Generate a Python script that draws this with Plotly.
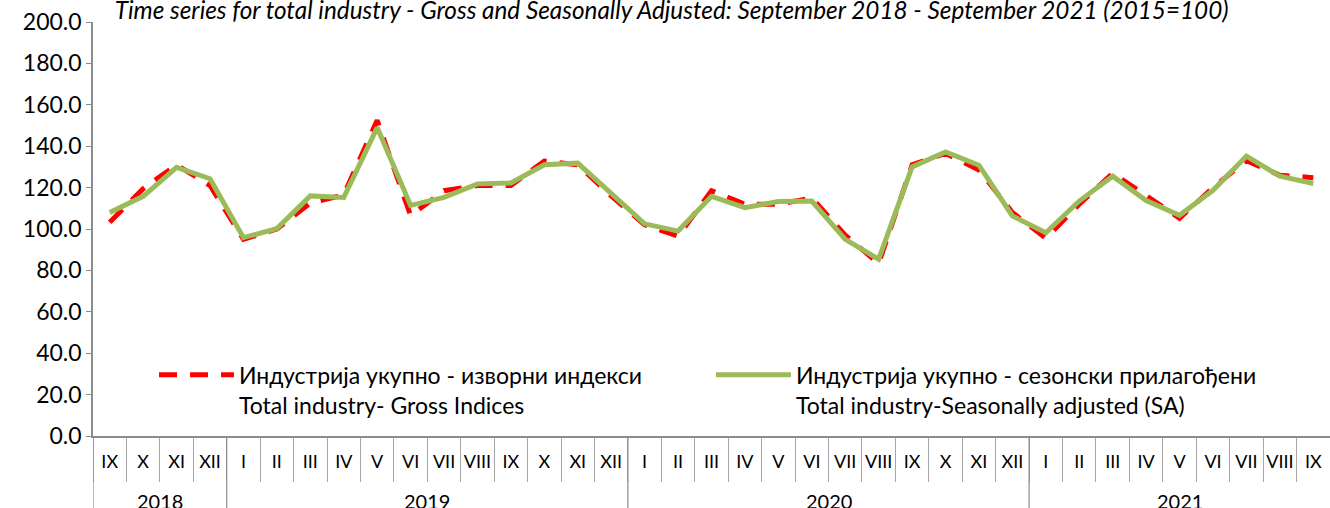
import plotly.graph_objects as go

years = ["2018", "2019", "2020", "2021"]
year_counts = [4, 12, 12, 9]
months = ["IX", "X", "XI", "XII"] + \
         ["I", "II", "III", "IV", "V", "VI", "VII", "VIII", "IX", "X", "XI", "XII"] * 2 + \
         ["I", "II", "III", "IV", "V", "VI", "VII", "VIII", "IX"]

gross = [103.3, 119.5, 131.0, 121.0,
         95.0, 100.0, 112.5, 116.5, 152.5, 106.5, 118.5, 121.0, 121.0, 132.8, 131.0, 116.0,
         102.0, 96.5, 118.5, 112.0, 112.0, 115.0, 97.0, 83.3, 131.0, 136.5, 128.5, 108.0,
         95.5, 112.0, 127.0, 116.0, 105.2, 120.0, 133.0, 126.0, 124.8]

sa = [108.0, 115.8, 129.8, 124.3,
      95.8, 100.2, 116.0, 115.2, 149.0, 111.4, 115.3, 121.8, 122.2, 131.0, 131.8, 117.5,
      102.5, 99.0, 115.8, 110.3, 113.3, 113.5, 95.0, 85.4, 130.0, 137.2, 130.8, 106.3,
      98.2, 113.5, 125.5, 113.7, 106.6, 118.7, 135.2, 125.5, 122.0]

name_gross = "Индустрија укупно - изворни индекси<br>Total industry- Gross Indices"
name_sa = "Индустрија укупно - сезонски прилагођени<br>Total industry-Seasonally adjusted (SA)"
title = "Time series for total industry - Gross and Seasonally Adjusted: September 2018 - September 2021 (2015=100)"

FONT = "Lato"
AXIS_GRAY = "#8C8C8C"
H_PLOT = 414   # plot height in px (508 - 22 - 72)
B_MARGIN = 72

idx = list(range(len(months)))

fig = go.Figure()
fig.add_trace(go.Scatter(
    x=idx, y=gross, name=name_gross, mode="lines",
    line=dict(color="#FF0000", width=5, dash="18px,13px"),
))
fig.add_trace(go.Scatter(
    x=idx, y=sa, name=name_sa, mode="lines",
    line=dict(color="#9BBB59", width=5),
))

# year group labels and dividers
annotations = []
shapes = []
start = 0
for yr, n in zip(years, year_counts):
    center = start + (n - 1) / 2
    annotations.append(dict(
        x=center, xref="x", y=-(487 - 436) / H_PLOT, yref="paper",
        text=yr, showarrow=False, xanchor="center", yanchor="top",
        font=dict(family=FONT, size=20, color="black"),
    ))
    shapes.append(dict(
        type="line", xref="x", yref="paper",
        x0=start - 0.5, x1=start - 0.5, y0=0, y1=-B_MARGIN / H_PLOT,
        line=dict(color=AXIS_GRAY, width=1.2),
    ))
    start += n

fig.update_layout(
    width=1330, height=508,
    margin=dict(l=93, r=0, t=22, b=B_MARGIN),
    paper_bgcolor="white", plot_bgcolor="white",
    font=dict(family=FONT, size=22, color="black"),
    title=dict(text=title, x=0.505, xanchor="center", y=1.0, yanchor="top",
               pad=dict(t=2, b=0),
               font=dict(family=FONT, size=24.3, style="italic", color="black")),
    showlegend=True,
    legend=dict(orientation="h", x=0.0493, y=0.20, xanchor="left", yanchor="top",
                bgcolor="rgba(0,0,0,0)", font=dict(family=FONT, size=23),
                entrywidth=467, entrywidthmode="pixels", valign="top",
                itemwidth=75, tracegroupgap=0),
    annotations=annotations,
    shapes=shapes,
)

fig.update_yaxes(
    range=[0, 200], dtick=20, tickformat=".1f", automargin=False,
    showgrid=False, zeroline=False,
    showline=True, linecolor=AXIS_GRAY, linewidth=1.5,
    ticks="outside", ticklen=5, tickcolor=AXIS_GRAY, ticklabelstandoff=0,
    tickfont=dict(family=FONT, size=23),
)
fig.update_xaxes(
    range=[-0.5, len(months) - 0.5], automargin=False,
    tickmode="array", tickvals=idx, ticktext=months, tickangle=0,
    ticks="", ticklabelstandoff=9,
    minor=dict(tick0=0.5, dtick=1, ticks="outside", ticklen=44,
               tickcolor="#A6A6A6", tickwidth=1, showgrid=False),
    showgrid=False, zeroline=False, showline=True, linecolor=AXIS_GRAY, linewidth=1.5,
    tickfont=dict(family=FONT, size=18),
)

fig.write_html("out.html",
               config={"displayModeBar": False},
               post_script="document.body.style.margin='0';document.body.style.overflow='hidden';")
